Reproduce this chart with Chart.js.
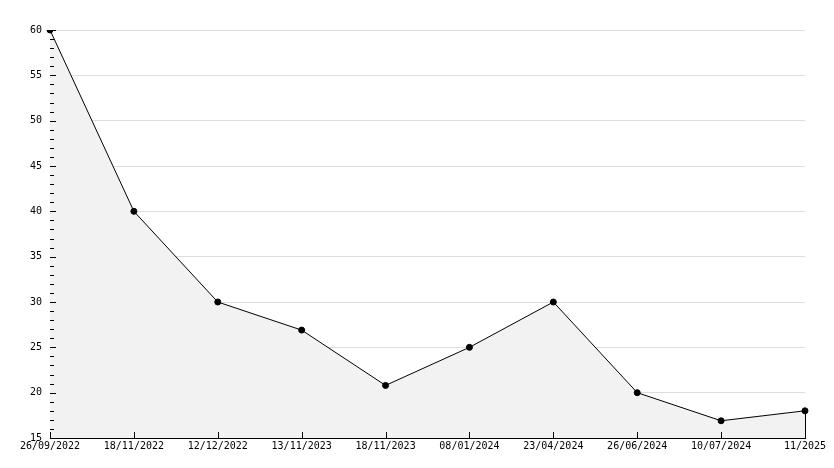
<!DOCTYPE html>
<html><head><meta charset="utf-8">
<script src="https://cdn.jsdelivr.net/npm/chart.js@4"></script>
<style>html,body{margin:0;padding:0;background:#fff}</style>
</head><body>
<canvas id="c" width="834" height="468"></canvas>
<script>
const categories=["26/09/2022","18/11/2022","12/12/2022","13/11/2023","18/11/2023","08/01/2024","23/04/2024","26/06/2024","10/07/2024","11/2025"];
const values=[60,40,30,26.9,20.8,25,30,20,16.9,18];
const yTicks=[15,20,25,30,35,40,45,50,55,60];
const font={family:"DejaVu Sans Mono",size:10};
const ticksPlugin={id:'tk',afterDatasetsDraw(ch){
  const c=ch.ctx,x=ch.scales.x,y=ch.scales.y;
  c.save();c.strokeStyle='#000';c.lineWidth=1;c.beginPath();
  for(let v=15;v<=60;v++){const p=Math.round(y.getPixelForValue(v))+0.5;const l=v%5===0?6:4;c.moveTo(x.left,p);c.lineTo(x.left+l,p);}
  for(let i=0;i<categories.length;i++){const p=Math.round(x.getPixelForValue(i))+0.5;c.moveTo(p,y.bottom);c.lineTo(p,y.bottom-6);}
  const lp=Math.round(x.getPixelForValue(categories.length-1))+0.5;
  c.moveTo(lp,y.bottom);c.lineTo(lp,y.getPixelForValue(values[values.length-1]));
  c.stroke();c.restore();}};
new Chart(document.getElementById('c'),{type:'line',
 data:{labels:categories,datasets:[{data:values,borderColor:'#000',borderWidth:1,backgroundColor:'#f2f2f2',fill:'origin',tension:0,pointStyle:'circle',pointRadius:3,pointBackgroundColor:'#000',pointBorderColor:'#000'}]},
 options:{responsive:false,animation:false,layout:{padding:{top:30,right:29,left:0,bottom:0}},
  plugins:{legend:{display:false},tooltip:{enabled:false}},
  scales:{
   x:{offset:false,grid:{display:false,drawTicks:false},border:{color:'#000',width:1},ticks:{color:'#000',font,maxRotation:0,autoSkip:false,padding:2},afterFit(s){s.height=30;}},
   y:{min:15,max:60,afterBuildTicks(s){s.ticks=yTicks.map(v=>({value:v}));},grid:{color:'#dddddd',drawTicks:false},border:{color:'#000',width:1},ticks:{color:'#000',font,padding:8},afterFit(s){s.width=50;}}
  }},plugins:[ticksPlugin]});
</script></body></html>
